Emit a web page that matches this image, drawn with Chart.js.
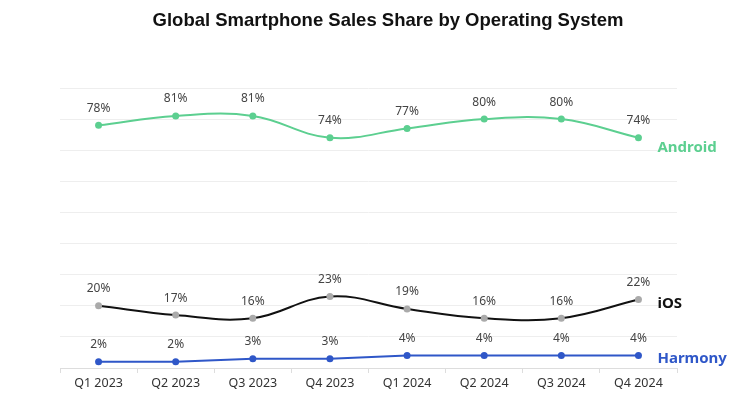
<!DOCTYPE html>
<html>
<head>
<meta charset="utf-8">
<script src="https://cdn.jsdelivr.net/npm/chart.js@4.4.1/dist/chart.umd.min.js"></script>
<style>
  html, body { margin: 0; padding: 0; background: #fff; }
  #wrap { width: 750px; height: 402px; }
</style>
</head>
<body>
<div id="wrap"><canvas id="osChart"></canvas></div>
<script>
// quarterly share per OS (%)
const quarters = ['Q1 2023', 'Q2 2023', 'Q3 2023', 'Q4 2023', 'Q1 2024', 'Q2 2024', 'Q3 2024', 'Q4 2024'];
const androidShare = [78, 81, 81, 74, 77, 80, 80, 74];
const iosShare = [20, 17, 16, 23, 19, 16, 16, 22];
const harmonyShare = [2, 2, 3, 3, 4, 4, 4, 4];
const seriesNames = ['Android', 'iOS', 'Harmony'];
const chartTitle = 'Global Smartphone Sales Share by Operating System';

const green = '#5ccf90';
const blue = '#2f57c8';

// title, value labels above points + series name after the last point
const labelPlugin = {
    id: 'labels',
    afterDatasetsDraw(chart) {
        const ctx = chart.ctx;
        const nameColors = [green, '#111', blue];
        const nameShift = [10, 4, 3];
        ctx.save();
        ctx.font = 'bold 18.5px "Liberation Sans", Arial, sans-serif';
        ctx.fillStyle = '#111';
        ctx.textAlign = 'center';
        ctx.textBaseline = 'middle';
        ctx.fillText(chartTitle, 388, 21);

        chart.data.datasets.forEach((ds, i) => {
            const meta = chart.getDatasetMeta(i);
            ctx.font = '12px "Noto Sans", sans-serif';
            ctx.fillStyle = '#444';
            ctx.textAlign = 'center';
            ctx.textBaseline = 'middle';
            meta.data.forEach((pt, j) => {
                ctx.fillText(ds.data[j] + '%', pt.x, pt.y - 17);
            });
            const last = meta.data[meta.data.length - 1];
            ctx.font = 'bold 15px "Noto Sans", sans-serif';
            ctx.fillStyle = nameColors[i];
            ctx.textAlign = 'left';
            ctx.fillText(ds.label, last.x + 19, last.y + nameShift[i]);
        });
        ctx.restore();
    }
};

new Chart(document.getElementById('osChart'), {
    type: 'line',
    data: {
        labels: quarters,
        datasets: [{
            label: seriesNames[0],
            data: androidShare,
            borderColor: green,
            backgroundColor: green,
            pointBackgroundColor: green,
            pointBorderColor: green
        }, {
            label: seriesNames[1],
            data: iosShare,
            borderColor: '#111',
            backgroundColor: '#aaa',
            pointBackgroundColor: '#aaa',
            pointBorderColor: '#aaa'
        }, {
            label: seriesNames[2],
            data: harmonyShare,
            borderColor: blue,
            backgroundColor: blue,
            pointBackgroundColor: blue,
            pointBorderColor: blue,
            tension: 0
        }]
    },
    options: {
        responsive: true,
        maintainAspectRatio: false,
        animation: false,
        elements: {
            line: { borderWidth: 2, tension: 0.4 },
            point: { radius: 3.5, borderWidth: 0 }
        },
        layout: { padding: { top: 88, left: 60, right: 73, bottom: 8 } },
        plugins: {
            legend: { display: false },
            tooltip: { enabled: false },
            title: { display: false }
        },
        scales: {
            x: {
                offset: true,
                grid: { drawOnChartArea: false, color: '#ddd', tickLength: 5, offset: true },
                border: { color: '#ddd' },
                ticks: { color: '#333', font: { family: '"Noto Sans", sans-serif', size: 12.5 }, padding: 3 }
            },
            y: {
                min: 0,
                max: 90,
                ticks: { display: false, stepSize: 10 },
                grid: { color: '#eeeeee', drawTicks: false },
                border: { display: false }
            }
        }
    },
    plugins: [labelPlugin]
});
</script>
</body>
</html>
